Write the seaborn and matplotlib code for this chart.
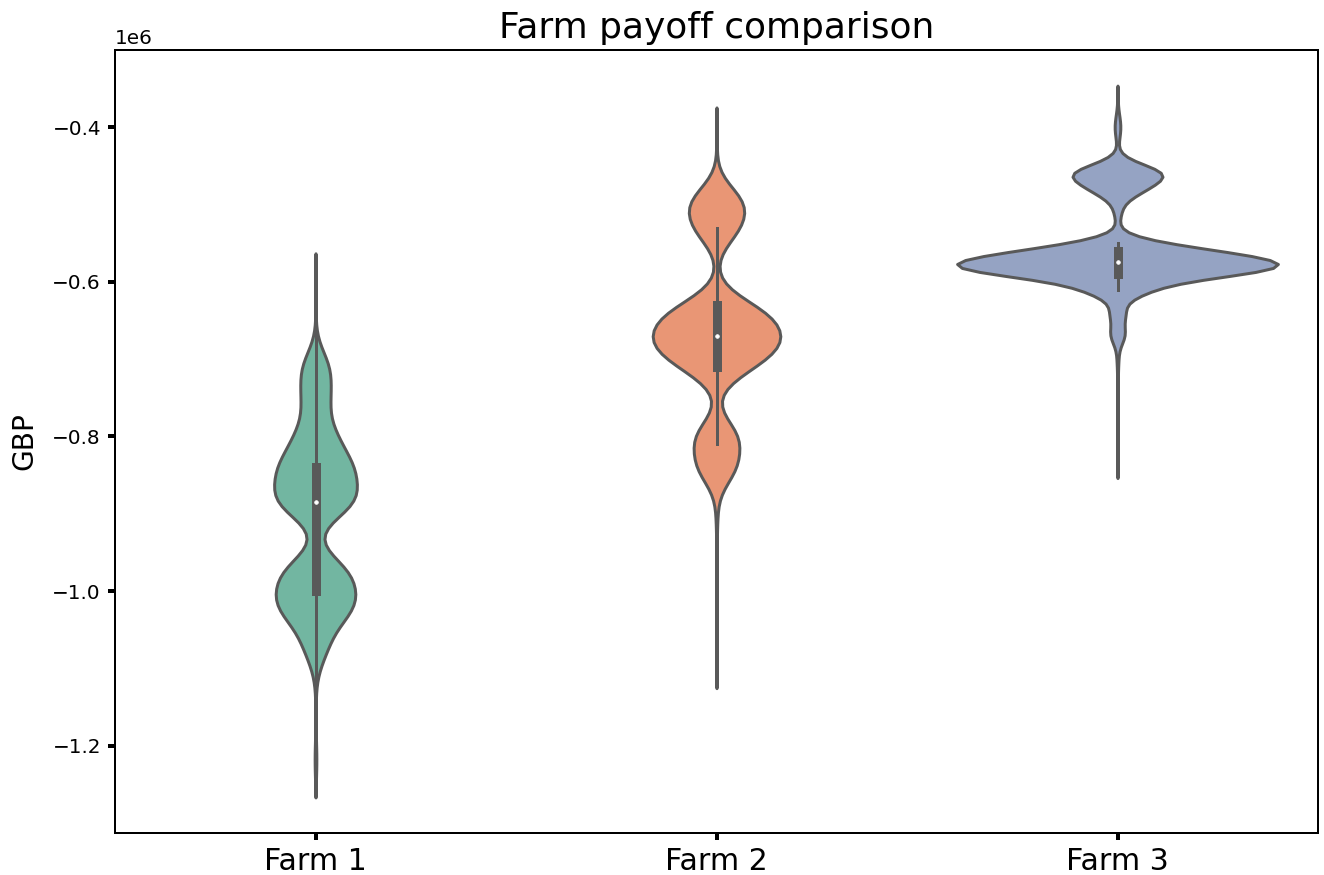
import numpy as np
import pandas as pd
import matplotlib
matplotlib.use("Agg")
import matplotlib.pyplot as plt
import seaborn as sns

farms = ["Farm 1", "Farm 2", "Farm 3"]

# Simulated payoff outcomes (thousands of GBP) and how many runs ended at each outcome
farm1_payoff_k = [-1220, -1210, -1140, -1090, -1080, -1070, -1060, -1050, -1040, -1030,
                  -1020, -1010, -1000, -990, -980, -970, -900, -890, -880, -870,
                  -860, -850, -840, -830, -820, -810, -800, -790, -780, -770,
                  -760, -750, -740, -730, -720, -710, -700, -610]
farm1_runs = [8, 2, 2, 9, 33, 37, 30, 24, 29, 66,
              143, 113, 41, 34, 132, 133, 2, 161, 187, 13,
              25, 108, 168, 31, 35, 53, 75, 37, 10, 8,
              25, 66, 28, 5, 8, 109, 5, 3]

farm2_payoff_k = [-1080, -1030, -1020, -980, -970, -960, -950, -910, -900, -890,
                  -850, -840, -810, -800, -790, -720, -710, -690, -680, -670,
                  -660, -650, -640, -630, -540, -530, -500, -490, -420]
farm2_runs = [3, 1, 2, 1, 1, 1, 1, 1, 5, 3,
              11, 162, 37, 157, 13, 7, 195, 155, 237, 66,
              141, 120, 168, 97, 26, 154, 170, 69, 2]

farm3_payoff_k = [-830, -800, -780, -750, -730, -720, -700, -690, -670, -660,
                  -640, -610, -590, -580, -570, -560, -550, -510, -490, -480,
                  -470, -460, -450, -410, -400, -390, -370]
farm3_runs = [2, 1, 1, 1, 1, 1, 4, 1, 32, 11,
              40, 143, 300, 462, 300, 231, 60, 17, 17, 92,
              41, 187, 33, 7, 7, 7, 1]

frames = []
for farm, payoff_k, runs in zip(farms,
                                [farm1_payoff_k, farm2_payoff_k, farm3_payoff_k],
                                [farm1_runs, farm2_runs, farm3_runs]):
    values = np.repeat(np.asarray(payoff_k, dtype=float) * 1000.0, runs)
    frames.append(pd.DataFrame({"Farm": farm, "GBP": values}))
df = pd.concat(frames, ignore_index=True)

dpi = 144
fig = plt.figure(figsize=(1324 / dpi, 875 / dpi), dpi=dpi)
ax = fig.add_axes([115 / 1324, 42 / 875, 1203 / 1324, 783 / 875])

# One shared density scale, so every violin encloses the same area
sns.violinplot(
    data=df, x="Farm", y="GBP", hue="Farm", order=farms, hue_order=farms,
    palette="Set2", legend=False, inner="box", linewidth=1.5,
    density_norm="area", common_norm=True,
    inner_kws=dict(box_width=4.5, whis_width=1.5, marker="o",
                   markersize=1.8, markeredgewidth=0.4),
    ax=ax,
)

ax.set_title("Farm payoff comparison", fontsize=18)
ax.set_xlabel("")
ax.set_ylabel("GBP", fontsize=14, labelpad=7)
ax.tick_params(axis="x", labelsize=15, length=3.5, width=2)
ax.tick_params(axis="y", labelsize=10, length=3.5, width=2)
ax.yaxis.get_offset_text().set_fontsize(10)
for spine in ax.spines.values():
    spine.set_linewidth(1.0)

fig.savefig("out.png", dpi=dpi)
